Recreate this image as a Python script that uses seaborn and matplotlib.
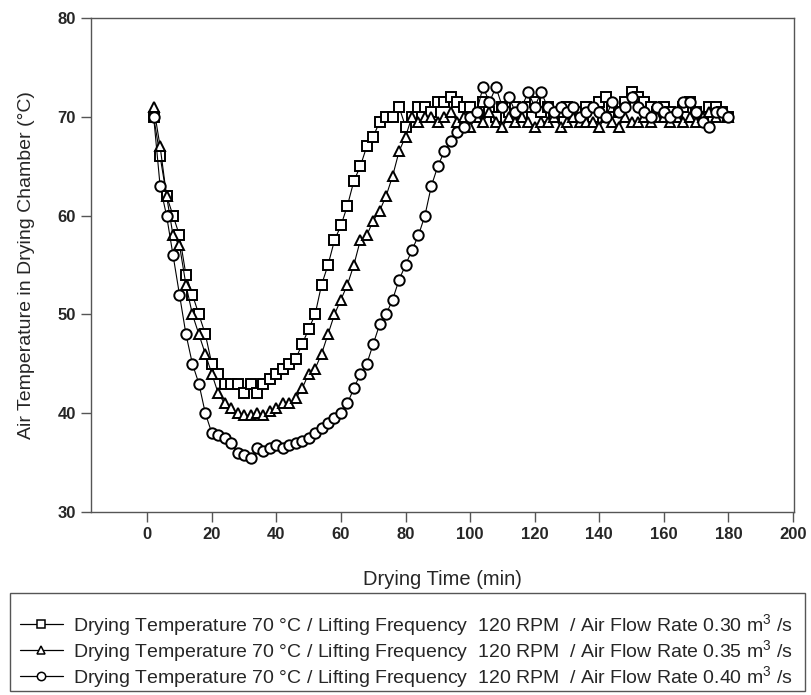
import numpy as np
import pandas as pd
import matplotlib
matplotlib.use("Agg")
import matplotlib.pyplot as plt
import seaborn as sns
from matplotlib.lines import Line2D
from matplotlib.patches import Rectangle

sns.set_style("ticks")
plt.rcParams['font.family'] = ['Liberation Sans', 'DejaVu Sans']
plt.rcParams['mathtext.fontset'] = 'custom'
plt.rcParams['mathtext.rm'] = 'Liberation Sans'
plt.rcParams['mathtext.it'] = 'Liberation Sans'

time_min = list(range(2, 182, 2))

temp_030 = [70, 66, 62, 60, 58, 54, 52, 50, 48, 45,
            44, 43, 43, 43, 42, 43, 42, 43, 43.5, 44,
            44.5, 45, 45.5, 47, 48.5, 50, 53, 55, 57.5, 59,
            61, 63.5, 65, 67, 68, 69.5, 70, 70, 71, 69,
            70, 71, 71, 70.5, 71.5, 71.5, 72, 71.5, 71, 71,
            70, 71.5, 70.5, 70, 71, 70.5, 71, 70, 71, 71.5,
            70.5, 71, 70, 70.5, 71, 70, 70.5, 71, 70, 71.5,
            72, 71, 70.5, 71.5, 72.5, 72, 71.5, 71, 70.5, 71,
            70.5, 70, 71, 71.5, 70.5, 70, 71, 71, 70.5, 70]

temp_035 = [71, 67, 62, 58, 57, 53, 50, 48, 46, 44,
            42, 41, 40.5, 40, 39.8, 39.8, 40, 39.8, 40.2, 40.5,
            41, 41, 41.5, 42.5, 44, 44.5, 46, 48, 50, 51.5,
            53, 55, 57.5, 58, 59.5, 60.5, 62, 64, 66.5, 68,
            70, 69.5, 70, 70, 69.5, 70, 70.5, 69.5, 70, 69,
            70, 69.5, 70.5, 69.5, 69, 70, 69.5, 70, 69.5, 69,
            69.5, 69.5, 70, 69, 69.5, 70, 69.5, 69.5, 69.5, 69,
            70, 69.5, 69, 70, 69.5, 69.5, 70, 69.5, 70, 70,
            69.5, 70, 69.5, 70, 69.5, 70, 70.5, 70, 70.5, 70]

temp_040 = [70, 63, 60, 56, 52, 48, 45, 43, 40, 38,
            37.8, 37.5, 37, 36, 35.8, 35.5, 36.5, 36.2, 36.5, 36.8,
            36.5, 36.8, 37, 37.2, 37.5, 38, 38.5, 39, 39.5, 40,
            41, 42.5, 44, 45, 47, 49, 50, 51.5, 53.5, 55,
            56.5, 58, 60, 63, 65, 66.5, 67.5, 68.5, 69, 70,
            70.5, 73, 71.5, 73, 71, 72, 70.5, 71, 72.5, 71,
            72.5, 71, 70.5, 71, 70.5, 71, 70, 70.5, 71, 70.5,
            70, 71.5, 70.5, 71, 72, 71, 70.5, 70, 71, 70.5,
            70, 70.5, 71.5, 71.5, 70.5, 69.5, 69, 70.5, 70.5, 70]

labels = [
    "Drying Temperature 70 \u00b0C / Lifting Frequency  120 RPM  / Air Flow Rate 0.30 m$^3$ /s",
    "Drying Temperature 70 \u00b0C / Lifting Frequency  120 RPM  / Air Flow Rate 0.35 m$^3$ /s",
    "Drying Temperature 70 \u00b0C / Lifting Frequency  120 RPM  / Air Flow Rate 0.40 m$^3$ /s",
]
markers = ["s", "^", "o"]
series = [temp_030, temp_035, temp_040]

W, H = 812, 695
fig = plt.figure(figsize=(W / 100, H / 100), dpi=100)
ax = fig.add_axes([91 / W, 1 - 512 / H, (794 - 91) / W, (512 - 18) / H])

handles = []
for vals, mk, lab in zip(series, markers, labels):
    df = pd.DataFrame({"t": time_min, "T": vals})
    sns.lineplot(data=df, x="t", y="T", ax=ax, color="black", linewidth=0.8,
                 marker=mk, markersize=7.5, markerfacecolor="white",
                 markeredgecolor="black", markeredgewidth=1.4, legend=False)
    handles.append(Line2D([0], [0], color="black", linewidth=0.9, marker=mk,
                          markersize=6, markerfacecolor="white",
                          markeredgecolor="black", markeredgewidth=1.1, label=lab))

ax.set_xlim(-17.4, 200.3)
ax.set_ylim(30, 80)
ax.set_xticks(range(0, 201, 20))
ax.set_yticks(range(30, 81, 10))
ax.tick_params(axis="both", direction="out", length=7, width=1, color="#555555",
               labelsize=12, pad=4)
for lab in ax.get_yticklabels() + ax.get_xticklabels():
    lab.set_fontweight("semibold")
for sp in ax.spines.values():
    sp.set_visible(True)
    sp.set_color("#555555")
    sp.set_linewidth(1.0)
ax.set_xlabel("Drying Time (min)", fontsize=14.5, labelpad=20)
ax.set_ylabel("Air Temperature in Drying Chamber (\u00b0C)", fontsize=14, labelpad=16)

# legend box
fig.add_artist(Rectangle((10 / W, 1 - 691 / H), (805 - 10) / W, (691 - 593) / H,
                         transform=fig.transFigure, facecolor="none",
                         edgecolor="#555555", linewidth=1.0))
leg = fig.legend(handles=handles, loc="upper left",
                 bbox_to_anchor=(20 / W, 1 - 612 / H),
                 fontsize=14, frameon=False, handlelength=2.2, handletextpad=0.55,
                 labelspacing=0.0, borderpad=0, borderaxespad=0)

fig.savefig("out.png", dpi=100)
